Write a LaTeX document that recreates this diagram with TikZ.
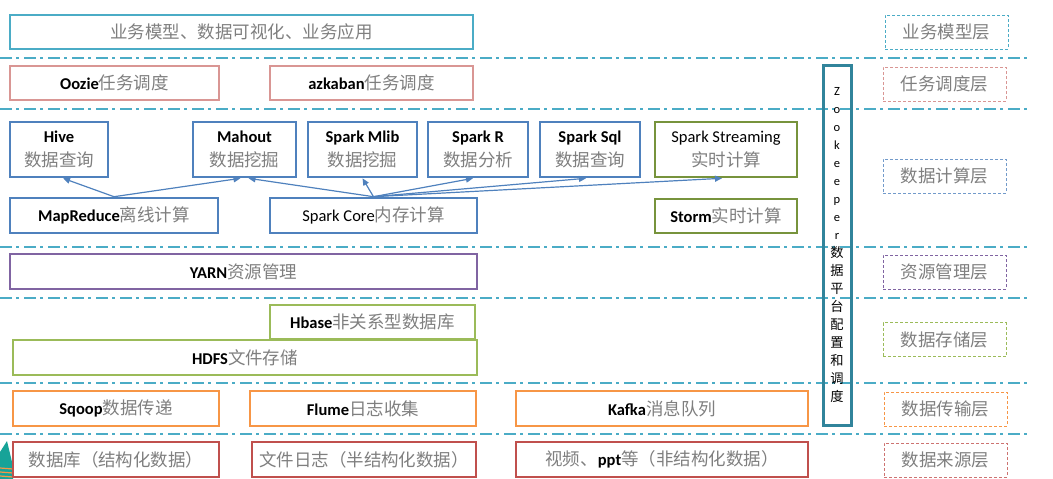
\documentclass[tikz,border=0pt]{standalone}
\usepackage{fontspec}
\setmainfont{Carlito}
\newfontfamily\cjk[Scale=1.06]{Noto Sans CJK SC}
\usetikzlibrary{arrows.meta}

\definecolor{LayerTeal}{HTML}{4BACC6}
\definecolor{SchedPink}{HTML}{D99694}
\definecolor{CompBlue}{HTML}{4F81BD}
\definecolor{StreamGreen}{HTML}{77933C}
\definecolor{YarnPurple}{HTML}{8064A2}
\definecolor{StoreGreen}{HTML}{9BBB59}
\definecolor{MoveOrange}{HTML}{F79646}
\definecolor{SourceRed}{HTML}{C0504D}
\definecolor{ZkTeal}{HTML}{31849B}
\definecolor{TextGray}{HTML}{7F7F7F}
\definecolor{CornerTeal}{HTML}{17A398}

\newcommand{\en}[1]{{\bfseries\color{black}#1}}
\newcommand{\zh}[1]{{\cjk\color{TextGray}#1}}

\tikzset{
  layerbox/.style={draw=#1, line width=2pt, fill=white, inner sep=0pt,
    align=center, font=\fontsize{16.5}{24}\selectfont},
  compbox/.style={layerbox=#1, line width=2.6pt, minimum height=55pt},
  tagbox/.style={draw=#1, line width=1pt, dash pattern=on 3pt off 2pt,
    minimum width=123pt, minimum height=34pt, inner sep=0pt,
    font=\fontsize{16.5}{20}\selectfont},
  sepline/.style={draw=LayerTeal, line width=1.5pt,
    dash pattern=on 12pt off 4pt on 3pt off 5pt},
  flow/.style={draw=CompBlue, line width=1.2pt,
    -{Triangle[length=7pt,width=6pt]}}
}

\begin{document}
\begin{tikzpicture}[x=1pt,y=-1pt]
  \useasboundingbox (0,0) rectangle (1053,479);

  % layer separators
  \foreach \ly in {58,109,247,298,383,434}
    \draw[sepline] (0,\ly) -- (1028,\ly);

  % corner of the slide background
  \fill[CornerTeal] (0,452) -- (7,441) -- (13,466) -- (13,479) -- (0,479) -- cycle;
  \foreach \oy in {468,472,476}
    \draw[MoveOrange, line width=1.2pt] (0,\oy) -- (13,\oy+1);

  % business layer
  \node[layerbox=LayerTeal, minimum width=463pt, minimum height=34pt] (app) at (241.5,32)
    {\zh{业务模型、数据可视化、业务应用}};

  % scheduling layer
  \node[layerbox=SchedPink, minimum width=209pt, minimum height=34pt] (oozie) at (114.5,83)
    {\en{Oozie}\zh{任务调度}};
  \node[layerbox=SchedPink, minimum width=203pt, minimum height=34pt] (azkaban) at (371.5,83)
    {\en{azkaban}\zh{任务调度}};

  % computing layer
  \node[compbox=CompBlue, minimum width=98pt] (hive) at (59,149.5)
    {\en{Hive}\\\zh{数据查询}};
  \node[compbox=CompBlue, minimum width=103pt] (mahout) at (244.5,149.5)
    {\en{Mahout}\\\zh{数据挖掘}};
  \node[compbox=CompBlue, minimum width=109pt] (mlib) at (362.5,149.5)
    {\en{Spark Mlib}\\\zh{数据挖掘}};
  \node[compbox=CompBlue, minimum width=100pt] (sparkr) at (478,149.5)
    {\en{Spark R}\\\zh{数据分析}};
  \node[compbox=CompBlue, minimum width=100pt] (sparksql) at (590,149.5)
    {\en{Spark Sql}\\\zh{数据查询}};
  \node[compbox=StreamGreen, minimum width=142pt] (streaming) at (726,149.5)
    {\en{\mdseries Spark Streaming}\\\zh{实时计算}};

  \node[compbox=CompBlue, minimum width=208pt, minimum height=35pt] (mapreduce) at (114,215.5)
    {\en{MapReduce}\zh{离线计算}};
  \node[compbox=CompBlue, minimum width=207pt, minimum height=35pt] (sparkcore) at (373.5,215.5)
    {\en{\mdseries Spark Core}\zh{内存计算}};
  \node[compbox=StreamGreen, minimum width=142pt, minimum height=34pt] (storm) at (726,216)
    {\en{Storm}\zh{实时计算}};

  \draw[flow] (mapreduce.north) -- ([xshift=4pt]hive.south);
  \draw[flow] (mapreduce.north) -- ([xshift=-4pt]mahout.south);
  \draw[flow] (sparkcore.north) -- ([xshift=4pt]mahout.south);
  \draw[flow] (sparkcore.north) -- (mlib.south);
  \draw[flow] (sparkcore.north) -- ([xshift=-5pt]sparkr.south);
  \draw[flow] (sparkcore.north) -- ([xshift=-4pt]sparksql.south);
  \draw[flow] (sparkcore.north) -- ([xshift=-4pt]streaming.south);

  % resource layer
  \node[layerbox=YarnPurple, minimum width=467pt, minimum height=35pt] (yarn) at (243.5,271.5)
    {\en{YARN}\zh{资源管理}};

  % storage layer
  \node[layerbox=StoreGreen, minimum width=205pt, minimum height=34pt] (hbase) at (372.5,322)
    {\en{Hbase}\zh{非关系型数据库}};
  \node[layerbox=StoreGreen, minimum width=464pt, minimum height=35pt] (hdfs) at (245,357.5)
    {\en{HDFS}\zh{文件存储}};

  % transfer layer
  \node[layerbox=MoveOrange, minimum width=206pt, minimum height=35pt] (sqoop) at (116,408.5)
    {\en{Sqoop}\zh{数据传递}};
  \node[layerbox=MoveOrange, minimum width=226pt, minimum height=35pt] (flume) at (363,408.5)
    {\en{Flume}\zh{日志收集}};
  \node[layerbox=MoveOrange, minimum width=292pt, minimum height=35pt] (kafka) at (662,408.5)
    {\en{Kafka}\zh{消息队列}};

  % source layer
  \node[layerbox=SourceRed, line width=2.4pt, minimum width=206pt, minimum height=35pt] (db) at (116,459.5)
    {\zh{数据库（结构化数据）}};
  \node[layerbox=SourceRed, line width=2.4pt, minimum width=224pt, minimum height=35pt] (logs) at (364,459.5)
    {\zh{文件日志（半结构化数据）}};
  \node[layerbox=SourceRed, line width=2.4pt, minimum width=292pt, minimum height=35pt] (video) at (662,459.5)
    {\zh{视频、}\en{ppt}\zh{等（非结构化数据）}};

  % zookeeper column
  \node[draw=ZkTeal, line width=3pt, minimum width=28pt, minimum height=360pt,
        inner sep=0pt, text width=16pt, align=center,
        font=\fontsize{12.5}{18}\selectfont] (zk) at (837,245)
    {Z\\o\\o\\k\\e\\e\\p\\e\\r\\\cjk 数\\据\\平\\台\\配\\置\\和\\调\\度};

  % layer tags
  \node[tagbox=LayerTeal] (tagapp) at (946.5,32) {\zh{业务模型层}};
  \node[tagbox=SchedPink] (tagsched) at (944.5,84) {\zh{任务调度层}};
  \node[tagbox=CompBlue!80] (tagcomp) at (944.5,176) {\zh{数据计算层}};
  \node[tagbox=YarnPurple] (tagyarn) at (944.5,272) {\zh{资源管理层}};
  \node[tagbox=StoreGreen] (tagstore) at (944.5,339.5) {\zh{数据存储层}};
  \node[tagbox=MoveOrange] (tagmove) at (945.5,409) {\zh{数据传输层}};
  \node[tagbox=SourceRed!80] (tagsource) at (945.5,460) {\zh{数据来源层}};
\end{tikzpicture}
\end{document}
